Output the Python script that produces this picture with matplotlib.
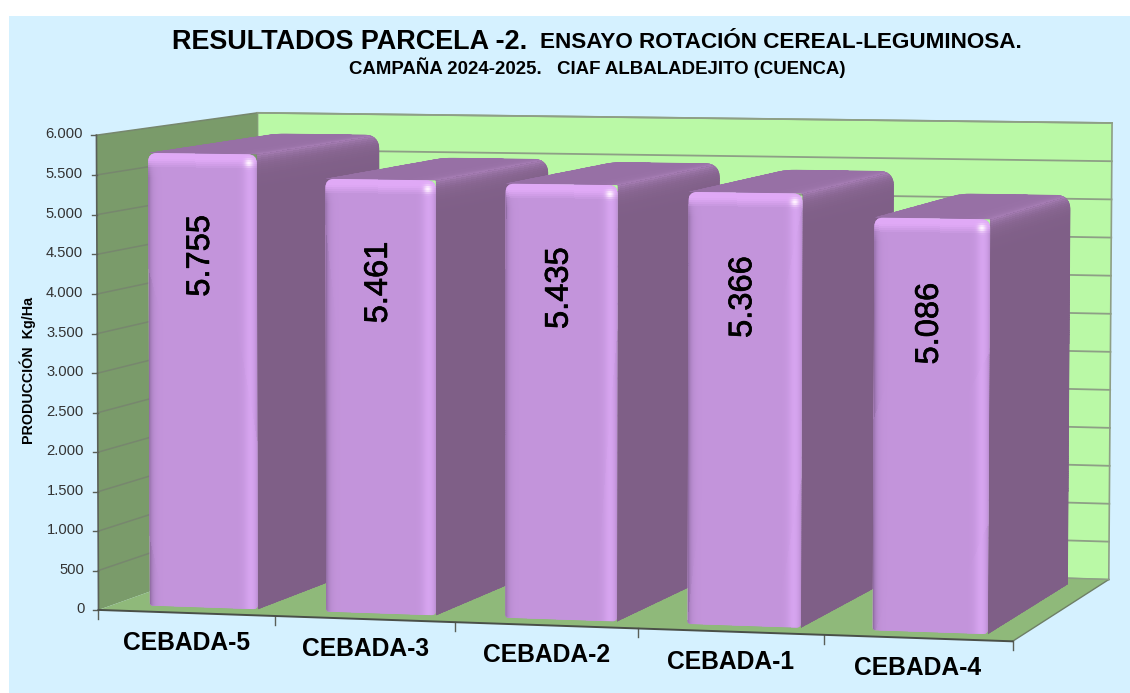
import numpy as np
import matplotlib
matplotlib.use('Agg')
import matplotlib.pyplot as plt
from matplotlib.colors import to_rgb
from matplotlib.patches import Polygon, Rectangle, PathPatch
from matplotlib.path import Path
import matplotlib.patheffects as pe

plt.rcParams['font.family'] = ['Liberation Sans', 'DejaVu Sans']

# datos de la grafica
categories = ['CEBADA-5', 'CEBADA-3', 'CEBADA-2', 'CEBADA-1', 'CEBADA-4']
produccion = [5755, 5461, 5435, 5366, 5086]
value_labels = ['5.755', '5.461', '5.435', '5.366', '5.086']
y_ticks = [0, 500, 1000, 1500, 2000, 2500, 3000, 3500, 4000, 4500, 5000, 5500, 6000]
y_tick_labels = ['0', '500', '1.000', '1.500', '2.000', '2.500', '3.000', '3.500',
                 '4.000', '4.500', '5.000', '5.500', '6.000']

W, H = 1130, 693
Z_MAX = 6000
N = len(categories)
D0, D1 = 0.09, 0.90      # profundidad de las barras
GAP_L, GAP_R = 0.205, 0.18

# camara: puntos del cubo (u, d, z) y donde caen en pixeles
cube = [(0, 0, 0), (5, 0, 0), (0, 0, 6000), (0, 1, 0), (5, 1, 0), (0, 1, 6000), (5, 1, 6000),
        (1, 0, 0), (2, 0, 0), (3, 0, 0), (4, 0, 0)]
pixels = [(99, 609), (1012, 642), (96, 135), (258, 554), (1109, 578), (258, 113), (1112, 123),
          (275, 615), (456, 622), (638, 629), (824, 636)]
A = []
b = []
for (u, d, z), (px, py) in zip(cube, pixels):
    v = [u / 5, d, z / Z_MAX, 1]
    A.append(v + [0, 0, 0, 0] + [-px * c for c in v[:3]])
    A.append([0, 0, 0, 0] + v + [-py * c for c in v[:3]])
    b += [px, py]
sol = np.linalg.lstsq(np.array(A, float), np.array(b, float), rcond=None)[0]
P = np.append(sol, 1).reshape(3, 4)


def proj(u, d, z):
    q = P @ np.array([u / 5, d, z / Z_MAX, 1])
    return np.array([q[0] / q[2], q[1] / q[2]])


def rounded(pts, radii):
    # poligono con esquinas redondeadas
    verts, codes = [], []
    n = len(pts)
    for i in range(n):
        p = np.array(pts[i], float)
        a = np.array(pts[i - 1], float)
        c = np.array(pts[(i + 1) % n], float)
        r = radii[i]
        p1 = p + (a - p) / np.linalg.norm(a - p) * r
        p2 = p + (c - p) / np.linalg.norm(c - p) * r
        verts += [p1, p, p2]
        codes += [Path.MOVETO if i == 0 else Path.LINETO, Path.CURVE3, Path.CURVE3]
    verts.append(verts[0])
    codes.append(Path.CLOSEPOLY)
    return Path(verts, codes)


def mix(img, color, w):
    return img * (1 - w[..., None]) + np.array(to_rgb(color)) * w[..., None]


def paint_face(ax, corners, outline, shader, under):
    # corners: arriba-izq, arriba-der, abajo-der, abajo-izq
    tl, tr, br, bl = [np.array(c, float) for c in corners]
    wpx = max(np.linalg.norm(tr - tl), np.linalg.norm(br - bl))
    hpx = max(np.linalg.norm(bl - tl), np.linalg.norm(br - tr))
    nx, ny = int(wpx) + 2, max(int(hpx / 2), 60)
    s, t = np.meshgrid(np.linspace(0, 1, nx + 1), np.linspace(0, 1, ny + 1))
    X = (1 - t) * ((1 - s) * tl[0] + s * tr[0]) + t * ((1 - s) * bl[0] + s * br[0])
    Y = (1 - t) * ((1 - s) * tl[1] + s * tr[1]) + t * ((1 - s) * bl[1] + s * br[1])
    sc = (s[:-1, :-1] + s[1:, 1:]) / 2
    tc = (t[:-1, :-1] + t[1:, 1:]) / 2
    img = np.clip(shader(sc * wpx, (1 - sc) * wpx, tc * hpx, (1 - tc) * hpx), 0, 1)
    base = PathPatch(Path(np.array([tl, tr, br, bl, tl]), closed=True), facecolor=under,
                     edgecolor=under, linewidth=0.6, zorder=3)
    ax.add_patch(base)
    clip = PathPatch(outline, transform=ax.transData)
    base.set_clip_path(clip)
    mesh = ax.pcolormesh(X, Y, img, shading='flat', linewidth=0, zorder=3)
    mesh.set_clip_path(clip)


def front_shader(dl, dr, dt, db):
    img = np.ones(dl.shape + (3,)) * np.array(to_rgb('#C394DB'))
    img = mix(img, '#8B689E', np.exp(-dl / 3.0) * np.clip(dt / 25, 0.25, 1))
    img = mix(img, '#D6A4EF', np.exp(-((dr - 7) / 6.5) ** 2))
    img = mix(img, '#B287C8', np.exp(-dr / 1.5) * 0.7)
    img = mix(img, '#E0A9F6', np.clip((15 - dt) / 9, 0, 1))
    img = mix(img, '#FFF2FF', np.exp(-((dr - 8) ** 2 + (dt - 9) ** 2) / 16))
    return img


def side_shader(dl, dr, dt, db):
    img = np.ones(dl.shape + (3,)) * np.array(to_rgb('#7F5F87'))
    img = mix(img, '#A67DB4', np.exp(-dt / 7.0))
    return img


def top_shader(dl, dr, dt, db):
    img = np.ones(dl.shape + (3,)) * np.array(to_rgb('#9770A5'))
    img = mix(img, '#A67DB4', np.exp(-dr / 9.0))
    return img


fig = plt.figure(figsize=(W / 100, H / 100), dpi=100, facecolor='white')
ax = fig.add_axes([0, 0, 1, 1])
ax.set_xlim(0, W)
ax.set_ylim(H, 0)
ax.axis('off')

ax.add_patch(Rectangle((9, 16), W - 9, H - 16, facecolor='#D5F1FF', edgecolor='none', zorder=0))

# paredes y suelo
c = proj
ax.add_patch(Polygon([c(0, 1, 0), c(5, 1, 0), c(5, 1, Z_MAX), c(0, 1, Z_MAX)],
                     facecolor='#BAF9A6', edgecolor='#8E9F86', linewidth=1.2, zorder=1))
ax.add_patch(Polygon([c(0, 0, 0), c(0, 1, 0), c(0, 1, Z_MAX), c(0, 0, Z_MAX)],
                     facecolor='#7A9B6A', edgecolor='none', zorder=1))
ax.add_patch(Polygon([c(0, 0, 0), c(5, 0, 0), c(5, 1, 0), c(0, 1, 0)],
                     facecolor='#8FB97A', edgecolor='none', zorder=1))
for z in y_ticks[1:]:
    p0, p1, p2 = c(0, 0, z), c(0, 1, z), c(5, 1, z)
    ax.plot([p0[0], p1[0]], [p0[1], p1[1]], color='#77876E', lw=1.1, zorder=2)
    ax.plot([p1[0], p2[0]], [p1[1], p2[1]], color='#8E9F86', lw=1.3, zorder=2)

# ejes
p0, p1 = c(0, 0, 0), c(0, 0, Z_MAX)
ax.plot([p0[0], p1[0]], [p0[1], p1[1]], color='#5A5F58', lw=1.2, zorder=2)
p1 = c(5, 0, 0)
ax.plot([p0[0], p1[0]], [p0[1], p1[1]], color='#4A4F48', lw=1.4, zorder=6)
p2 = c(5, 1, 0)
ax.plot([p1[0], p2[0]], [p1[1], p2[1]], color='#6E7F66', lw=1.0, zorder=2)
p0 = c(0, 1, 0)
ax.plot([p0[0], p2[0]], [p0[1], p2[1]], color='#8E9F86', lw=1.0, zorder=2)

for z, lab in zip(y_ticks, y_tick_labels):
    p = c(0, 0, z)
    ax.plot([p[0] - 5, p[0]], [p[1], p[1]], color='#5A5F58', lw=1.0, zorder=2)
    ax.text(p[0] - 14, p[1] - 1, lab, ha='right', va='center', fontsize=10.6, color='#333333')
for i in range(N + 1):
    p = c(i, 0, 0)
    ax.plot([p[0], p[0]], [p[1], p[1] + 9], color='#5A5F58', lw=1.0, zorder=2)

# barras de izquierda a derecha
for i, (val, lab) in enumerate(zip(produccion, value_labels)):
    u0, u1 = i + GAP_L, i + 1 - GAP_R
    tl, tr = c(u0, D0, val), c(u1, D0, val)
    br, bl = c(u1, D0, 0), c(u0, D0, 0)
    bk_l, bk_r, bk_b = c(u0, D1, val), c(u1, D1, val), c(u1, D1, 0)
    # silueta comun de la tapa y el lateral
    outline = rounded([tl, bk_l, bk_r, bk_b, br, tr], [0.1, 10, 15, 0.1, 0.1, 0.1])
    paint_face(ax, [tr, bk_r, bk_b, br], outline, side_shader, '#7F5F87')
    paint_face(ax, [bk_l, bk_r, tr, tl], outline, top_shader, '#9770A5')
    paint_face(ax, [tl, tr, br, bl], rounded([tl, tr, br, bl], [9, 9, 5, 3]), front_shader, '#C394DB')
    p = c(i + 0.5, D0, val - 1290)
    ax.text(p[0], p[1], lab, rotation=90, ha='center', va='center', fontsize=23.5, color='black',
            zorder=5, path_effects=[pe.withStroke(linewidth=0.5, foreground='black')])
    q = c(i + 0.5, 0, 0)
    ax.text(q[0], q[1] + 30, categories[i], ha='center', va='center', fontsize=17.7,
            fontweight='bold', color='black', zorder=5)

# titulos
ax.text(172, 42, 'RESULTADOS PARCELA -2.', ha='left', va='center', fontsize=19.45,
        fontweight='bold', color='black')
ax.text(540, 43, 'ENSAYO ROTACIÓN CEREAL-LEGUMINOSA.', ha='left', va='center', fontsize=16.2,
        fontweight='bold', color='black')
ax.text(597, 68, 'CAMPAÑA 2024-2025.   CIAF ALBALADEJITO (CUENCA)', ha='center', va='center',
        fontsize=13.4, fontweight='bold', color='black')
ax.text(28, 370, 'PRODUCCIÓN  Kg/Ha', rotation=90, ha='center', va='center', fontsize=10.3,
        fontweight='bold', color='black')

fig.savefig('out.png', dpi=100)
